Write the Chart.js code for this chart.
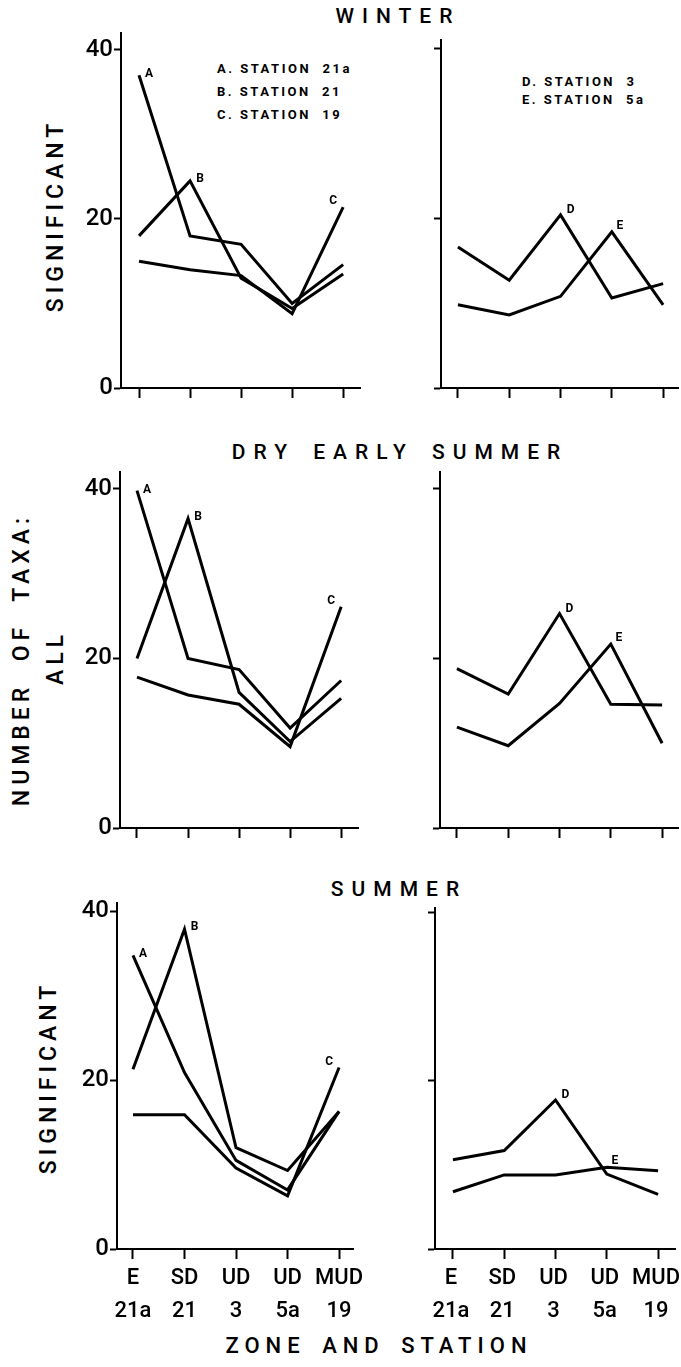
<!DOCTYPE html>
<html>
<head>
<meta charset="utf-8">
<script src="https://cdn.jsdelivr.net/npm/chart.js@4.4.1/dist/chart.umd.min.js"></script>
<style>
  body { margin: 0; background: #fff; }
  #page { position: relative; width: 681px; height: 1367px; font-family: Roboto, sans-serif; color: #000; overflow: hidden; }
  canvas { position: absolute; }
  .t { position: absolute; white-space: pre; transform: translate(-50%, -50%); font-size: 21px; font-weight: 500; letter-spacing: 8px; word-spacing: 5px; padding-left: 8px; }
  .v { position: absolute; white-space: pre; transform: translate(-50%, -50%) rotate(-90deg); font-size: 23px; font-weight: 500; letter-spacing: 5px; padding-left: 5px; }
  .key { position: absolute; white-space: pre; font-size: 13px; font-weight: bold; letter-spacing: 2.5px; }
</style>
</head>
<body>
<div id="page">
  <div class="t" style="left:394px; top:16px;">WINTER</div>
  <div class="t" style="left:396px; top:452px;">DRY EARLY SUMMER</div>
  <div class="t" style="left:395px; top:889px;">SUMMER</div>
  <div class="t" style="left:376px; top:1345px; font-size:22px; letter-spacing:6px; padding-left:6px;">ZONE AND STATION</div>

  <div class="v" style="left:55px; top:218px;">SIGNIFICANT</div>
  <div class="v" style="left:21px; top:662px;">NUMBER  OF  TAXA:</div>
  <div class="v" style="left:55px; top:660px;">ALL</div>
  <div class="v" style="left:48px; top:1080px;">SIGNIFICANT</div>

  <div class="key" style="left:217px; top:57px; line-height:23px;">A. STATION  21a
B. STATION  21
C. STATION  19</div>
  <div class="key" style="left:522px; top:73px; line-height:18px;">D. STATION  3
E. STATION  5a</div>

  <canvas id="winterLeft" width="302" height="380" style="left:70px; top:23px;"></canvas>
  <canvas id="winterRight" width="250" height="380" style="left:431px; top:23px;"></canvas>
  <canvas id="dryLeft" width="302" height="381" style="left:70px; top:462px;"></canvas>
  <canvas id="dryRight" width="250" height="381" style="left:431px; top:462px;"></canvas>
  <canvas id="summerLeft" width="302" height="436" style="left:70px; top:893px;"></canvas>
  <canvas id="summerRight" width="256" height="436" style="left:425px; top:893px;"></canvas>
</div>

<script>
// x axis: zone and station
const zones = ["E", "SD", "UD", "UD", "MUD"];
const stations = ["21a", "21", "3", "5a", "19"];
const yTicks = [0, 20, 40];

// winter
const winterA = [37, 18, 17, 10, 14.6];
const winterB = [18, 24.5, 13, 9.4, 13.5];
const winterC = [15, 14, 13.3, 8.8, 21.4];
const winterD = [16.6, 12.7, 20.4, 10.6, 12.3];
const winterE = [9.8, 8.6, 10.8, 18.4, 9.8];

// dry early summer
const dryA = [39.8, 20, 18.7, 11.8, 17.4];
const dryB = [20, 36.5, 16, 10.2, 15.3];
const dryC = [17.8, 15.7, 14.6, 9.6, 26.1];
const dryD = [18.8, 15.8, 25.3, 14.6, 14.5];
const dryE = [11.9, 9.7, 14.7, 21.7, 10.0];

// summer
const summerA = [34.8, 20.9, 10.5, 7.0, 16.3];
const summerB = [21.3, 37.9, 12, 9.3, 16.3];
const summerC = [15.9, 15.9, 9.6, 6.3, 21.5];
const summerD = [10.6, 11.7, 17.7, 8.9, 6.5];
const summerE = [6.8, 8.8, 8.8, 9.7, 9.3];

// where each line letter goes (point index + offset in px)
const letterPos = {
  A: { at: 0, dx: 10, dy: -1 },
  B: { at: 1, dx: 10, dy: -2 },
  C: { at: 4, dx: -10, dy: -6 },
  D: { at: 2, dx: 10, dy: -5 },
  E: { at: 3, dx: 8, dy: -6 }
};

const tickFamily = "Roboto, sans-serif";

// box = canvas-side sizes: y axis width, x range, paddings
function panel(id, lines, box, bottomRow) {
  const left = box.side === "left";
  const letters = {
    id: "letters",
    afterDatasetsDraw(chart) {
      const ctx = chart.ctx;
      ctx.save();
      ctx.font = "bold 12px Roboto, sans-serif";
      ctx.fillStyle = "#000";
      ctx.textAlign = "center";
      ctx.textBaseline = "middle";
      lines.forEach((l, i) => {
        const p = letterPos[l.letter];
        const pt = chart.getDatasetMeta(i).data[p.at];
        ctx.fillText(l.letter, pt.x + p.dx, pt.y + p.dy);
      });
      ctx.restore();
    }
  };

  new Chart(document.getElementById(id), {
    type: "line",
    data: {
      datasets: lines.map(l => ({
        label: l.letter,
        data: l.values.map((v, i) => ({ x: i, y: v })),
        borderColor: "#000",
        borderWidth: 3,
        borderJoinStyle: "miter",
        pointRadius: 0,
        tension: 0,
        fill: false
      }))
    },
    options: {
      responsive: false,
      animation: false,
      layout: { padding: { top: box.padTop, right: box.padRight, left: 0, bottom: 0 } },
      plugins: { legend: { display: false }, tooltip: { enabled: false } },
      scales: {
        x: {
          type: "linear",
          min: box.xMin,
          max: box.xMax,
          afterBuildTicks: s => { s.ticks = zones.map((z, i) => ({ value: i })); },
          afterFit: s => { s.height = bottomRow ? 80 : 15; s.paddingLeft = 0; s.paddingRight = 0; },
          grid: { drawOnChartArea: false, drawTicks: true, tickLength: 10, tickWidth: 2, color: "#000" },
          border: { display: true, width: 2, color: "#000" },
          ticks: {
            display: bottomRow,
            autoSkip: false,
            maxRotation: 0,
            padding: 3,
            labelOffset: left ? 0 : -2,
            color: "#000",
            font: { family: tickFamily, size: 22, weight: 500, lineHeight: 1.5 },
            callback: v => [zones[v], stations[v]]
          }
        },
        y: {
          min: 0,
          max: box.yMax,
          afterBuildTicks: s => { s.ticks = yTicks.map(v => ({ value: v })); },
          afterFit: s => { s.width = box.yWidth; s.paddingTop = 0; s.paddingBottom = 0; },
          grid: { drawOnChartArea: false, drawTicks: true, tickLength: 7, tickWidth: 2, color: "#000" },
          border: { display: true, width: 2, color: "#000" },
          ticks: { display: left, padding: 1, color: "#000", font: { family: tickFamily, size: 24, weight: 500 } }
        }
      }
    },
    plugins: [letters]
  });
}

panel("winterLeft", [
  { letter: "A", values: winterA },
  { letter: "B", values: winterB },
  { letter: "C", values: winterC }
], { side: "left", yWidth: 51, xMin: -0.353, xMax: 4.33, yMax: 42, padTop: 10, padRight: 12 }, false);
panel("winterRight", [
  { letter: "D", values: winterD },
  { letter: "E", values: winterE }
], { side: "right", yWidth: 10, xMin: -0.33, xMax: 4.29, yMax: 41, padTop: 17, padRight: 3 }, false);

panel("dryLeft", [
  { letter: "A", values: dryA },
  { letter: "B", values: dryB },
  { letter: "C", values: dryC }
], { side: "left", yWidth: 50, xMin: -0.333, xMax: 4.33, yMax: 42, padTop: 10, padRight: 14 }, false);
panel("dryRight", [
  { letter: "D", values: dryD },
  { letter: "E", values: dryE }
], { side: "right", yWidth: 9, xMin: -0.33, xMax: 4.31, yMax: 42, padTop: 10, padRight: 3 }, false);

panel("summerLeft", [
  { letter: "A", values: summerA },
  { letter: "B", values: summerB },
  { letter: "C", values: summerC }
], { side: "left", yWidth: 47, xMin: -0.31, xMax: 4.27, yMax: 41, padTop: 10, padRight: 19 }, true);
panel("summerRight", [
  { letter: "D", values: summerD },
  { letter: "E", values: summerE }
], { side: "right", yWidth: 10, xMin: -0.35, xMax: 4.33, yMax: 40.5, padTop: 15, padRight: 6 }, true);
</script>
</body>
</html>
